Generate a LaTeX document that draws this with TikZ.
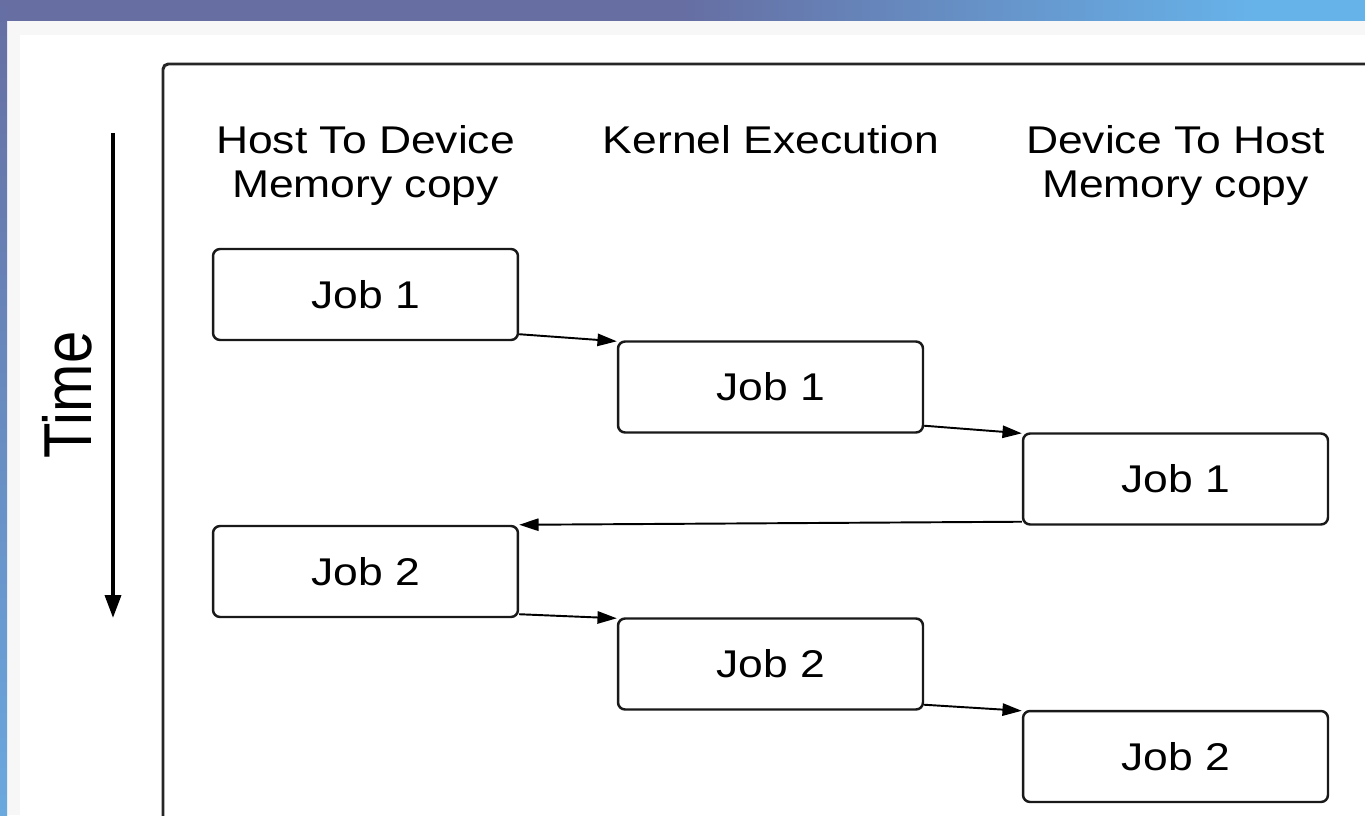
\documentclass[tikz,border=0pt]{standalone}
\usepackage{fontspec}
\setmainfont{Liberation Sans}
\usetikzlibrary{calc,arrows.meta}
\definecolor{bandpurple}{HTML}{666EA2}
\definecolor{bandblue}{HTML}{66B3EA}
\definecolor{stripblue}{HTML}{6AA8DE}
\definecolor{framegray}{HTML}{F7F7F7}
\pgfdeclarehorizontalshading{bandshade}{100bp}{color(0bp)=(bandpurple); color(50bp)=(bandpurple); color(71bp)=(bandblue); color(100bp)=(bandblue)}
\newcommand\widetext[1]{\scalebox{1.15}[1]{#1}}
\tikzset{
	jobbox/.style={draw=black!90, line width=1.4pt, rounded corners=4pt, minimum width=6.1cm, minimum height=1.82cm, inner sep=0pt, font=\fontsize{22}{23}\selectfont},
	header/.style={inner sep=0pt, anchor=base, font=\fontsize{22}{25.5}\selectfont},
	flow/.style={line width=1.1pt, -{Triangle[length=11pt,width=7pt]}}
}

\begin{document}
\begin{tikzpicture}[x=0.02cm, y=-0.02cm]
			%%%%% START %%%%%
			
			\useasboundingbox (0,0) rectangle (1365,815);
			\clip (0,0) rectangle (1365,815);
			
			\fill[framegray] (7,20) rectangle (1365,815);
			\fill[white] (20,35) rectangle (1365,815);
			\shade[shading=bandshade] (0,0) rectangle (1365,20);
			\shade[top color=bandpurple, bottom color=stripblue] (0,0) rectangle (7,815);
			
			\draw[line width=1.7pt, color=black!85, rounded corners=3pt] (163,64) rectangle (1420,870);
			
			\node[rotate=90, inner sep=0pt, font=\fontsize{33}{33}\selectfont] (timelabel) at (67.5,395) {\scalebox{1}[1.17]{Time}};
			\coordinate (tstart) at (113,133);
			\coordinate (tend) at (113,618);
			\draw[line width=2.2pt, -{Triangle[length=13pt,width=9pt]}] (tstart) -- (tend);
			
			\node[header] (h2dhead) at (365.5,153) {\widetext{\begin{tabular}[t]{@{}c@{}}Host To Device\\Memory copy\end{tabular}}};
			\node[header] (kerhead) at (771,153) {\widetext{Kernel Execution}};
			\node[header] (d2hhead) at (1175.5,153) {\widetext{\begin{tabular}[t]{@{}c@{}}Device To Host\\Memory copy\end{tabular}}};
			
			\node[jobbox] (h2d1) at (365.5,294.5) {\widetext{Job 1}};
			\node[jobbox] (ker1) at (770.5,387) {\widetext{Job 1}};
			\node[jobbox] (d2h1) at (1175.5,479) {\widetext{Job 1}};
			\node[jobbox] (h2d2) at (365.5,571.5) {\widetext{Job 2}};
			\node[jobbox] (ker2) at (770.5,664) {\widetext{Job 2}};
			\node[jobbox] (d2h2) at (1175.5,756.5) {\widetext{Job 2}};
			
			\draw[flow] ($(h2d1.south east)+(0,-7)$) -- ($(ker1.north west)+(0,1)$);
			\draw[flow] ($(ker1.south east)+(0,-8)$) -- ($(d2h1.north west)+(0,1)$);
			\draw[flow] ($(d2h1.south west)+(0,-4)$) -- (h2d2.north east);
			\draw[flow] ($(h2d2.south east)+(0,-4)$) -- ($(ker2.north west)+(0,1)$);
			\draw[flow] ($(ker2.south east)+(0,-6)$) -- ($(d2h2.north west)+(0,1)$);
			
			%%%%% END %%%%%
\end{tikzpicture}
\end{document}
